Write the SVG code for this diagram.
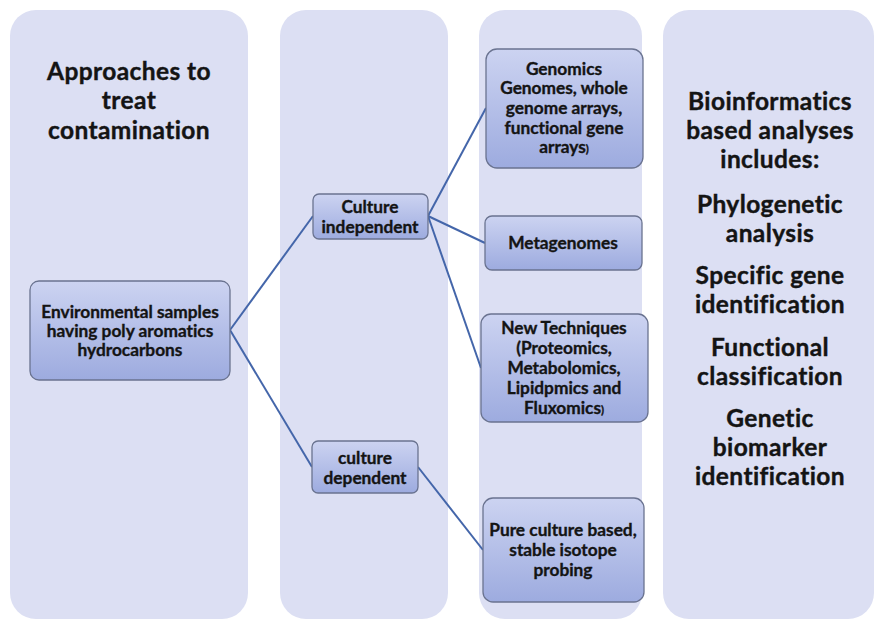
<svg xmlns="http://www.w3.org/2000/svg" width="876" height="619" viewBox="0 0 876 619">
  <defs>
    <linearGradient id="nodeFill" x1="0" y1="0" x2="0" y2="1">
      <stop offset="0" stop-color="#ccd3f1"/>
      <stop offset="1" stop-color="#9dabdf"/>
    </linearGradient>
    <style>
      .lane { fill: #dcdff3; }
      .node rect { fill: url(#nodeFill); stroke: #6a7390; stroke-width: 1.3; }
      .node text, .head { font-family: "Lato", "Liberation Sans", sans-serif; font-weight: bold; fill: #141414; text-anchor: middle; font-variant-ligatures: none; stroke: #141414; }
      .node text { font-size: 17.3px; stroke-width: 0.35; }
      .head { font-size: 24.5px; letter-spacing: 0.4px; stroke-width: 0.4; }
      .link { stroke: #4466aa; stroke-width: 2; fill: none; }
      .small { font-size: 11px; }
    </style>
  </defs>

  <!-- background lanes -->
  <g id="lanes">
    <rect class="lane" x="10" y="10" width="238" height="609" rx="26"/>
    <rect class="lane" x="280" y="10" width="168" height="609" rx="26"/>
    <rect class="lane" x="479" y="10" width="163" height="609" rx="26"/>
    <rect class="lane" x="663" y="10" width="211" height="609" rx="26"/>
  </g>

  <!-- lane headings -->
  <g id="title-left">
    <text class="head" x="129" y="80">Approaches to</text>
    <text class="head" x="129" y="109">treat</text>
    <text class="head" x="129" y="139">contamination</text>
  </g>
  <g id="bioinformatics">
    <text class="head" x="770" y="110">Bioinformatics</text>
    <text class="head" x="770" y="139">based analyses</text>
    <text class="head" x="770" y="168">includes:</text>
    <text class="head" x="770" y="213">Phylogenetic</text>
    <text class="head" x="770" y="242">analysis</text>
    <text class="head" x="770" y="284">Specific gene</text>
    <text class="head" x="770" y="313">identification</text>
    <text class="head" x="770" y="356">Functional</text>
    <text class="head" x="770" y="385">classification</text>
    <text class="head" x="770" y="427">Genetic</text>
    <text class="head" x="770" y="456">biomarker</text>
    <text class="head" x="770" y="485">identification</text>
  </g>

  <!-- connectors -->
  <g id="connectors">
    <line class="link" x1="230" y1="330" x2="313" y2="216"/>
    <line class="link" x1="230" y1="330" x2="312" y2="467"/>
    <line class="link" x1="428" y1="216" x2="486" y2="108"/>
    <line class="link" x1="428" y1="216" x2="485" y2="243"/>
    <line class="link" x1="428" y1="216" x2="481" y2="368"/>
    <line class="link" x1="418" y1="467" x2="483" y2="550"/>
  </g>

  <!-- nodes -->
  <g id="env-samples" class="node">
    <rect x="30" y="281" width="200" height="99" rx="9"/>
    <text x="130" y="318">Environmental samples</text>
    <text x="130" y="337">having poly aromatics</text>
    <text x="130" y="356">hydrocarbons</text>
  </g>
  <g id="culture-independent" class="node">
    <rect x="313" y="194" width="115" height="45" rx="6"/>
    <text x="370" y="213">Culture</text>
    <text x="370" y="233">independent</text>
  </g>
  <g id="culture-dependent" class="node">
    <rect x="312" y="441" width="106" height="52" rx="6"/>
    <text x="365" y="464">culture</text>
    <text x="365" y="484">dependent</text>
  </g>
  <g id="genomics" class="node">
    <rect x="486" y="49" width="157" height="119" rx="11"/>
    <text x="564" y="75">Genomics</text>
    <text x="564" y="94">Genomes, whole</text>
    <text x="564" y="114">genome arrays,</text>
    <text x="564" y="134">functional gene</text>
    <text x="564" y="153">arrays<tspan class="small">)</tspan></text>
  </g>
  <g id="metagenomes" class="node">
    <rect x="485" y="216" width="157" height="54" rx="7"/>
    <text x="563" y="249">Metagenomes</text>
  </g>
  <g id="new-techniques" class="node">
    <rect x="481" y="314" width="167" height="108" rx="10"/>
    <text x="564" y="334">New Techniques</text>
    <text x="564" y="354">(Proteomics,</text>
    <text x="564" y="374">Metabolomics,</text>
    <text x="564" y="394">Lipidpmics and</text>
    <text x="564" y="414">Fluxomics<tspan class="small">)</tspan></text>
  </g>
  <g id="pure-culture" class="node">
    <rect x="483" y="498" width="161" height="104" rx="10"/>
    <text x="563" y="536">Pure culture based,</text>
    <text x="563" y="556">stable isotope</text>
    <text x="563" y="576">probing</text>
  </g>
</svg>
